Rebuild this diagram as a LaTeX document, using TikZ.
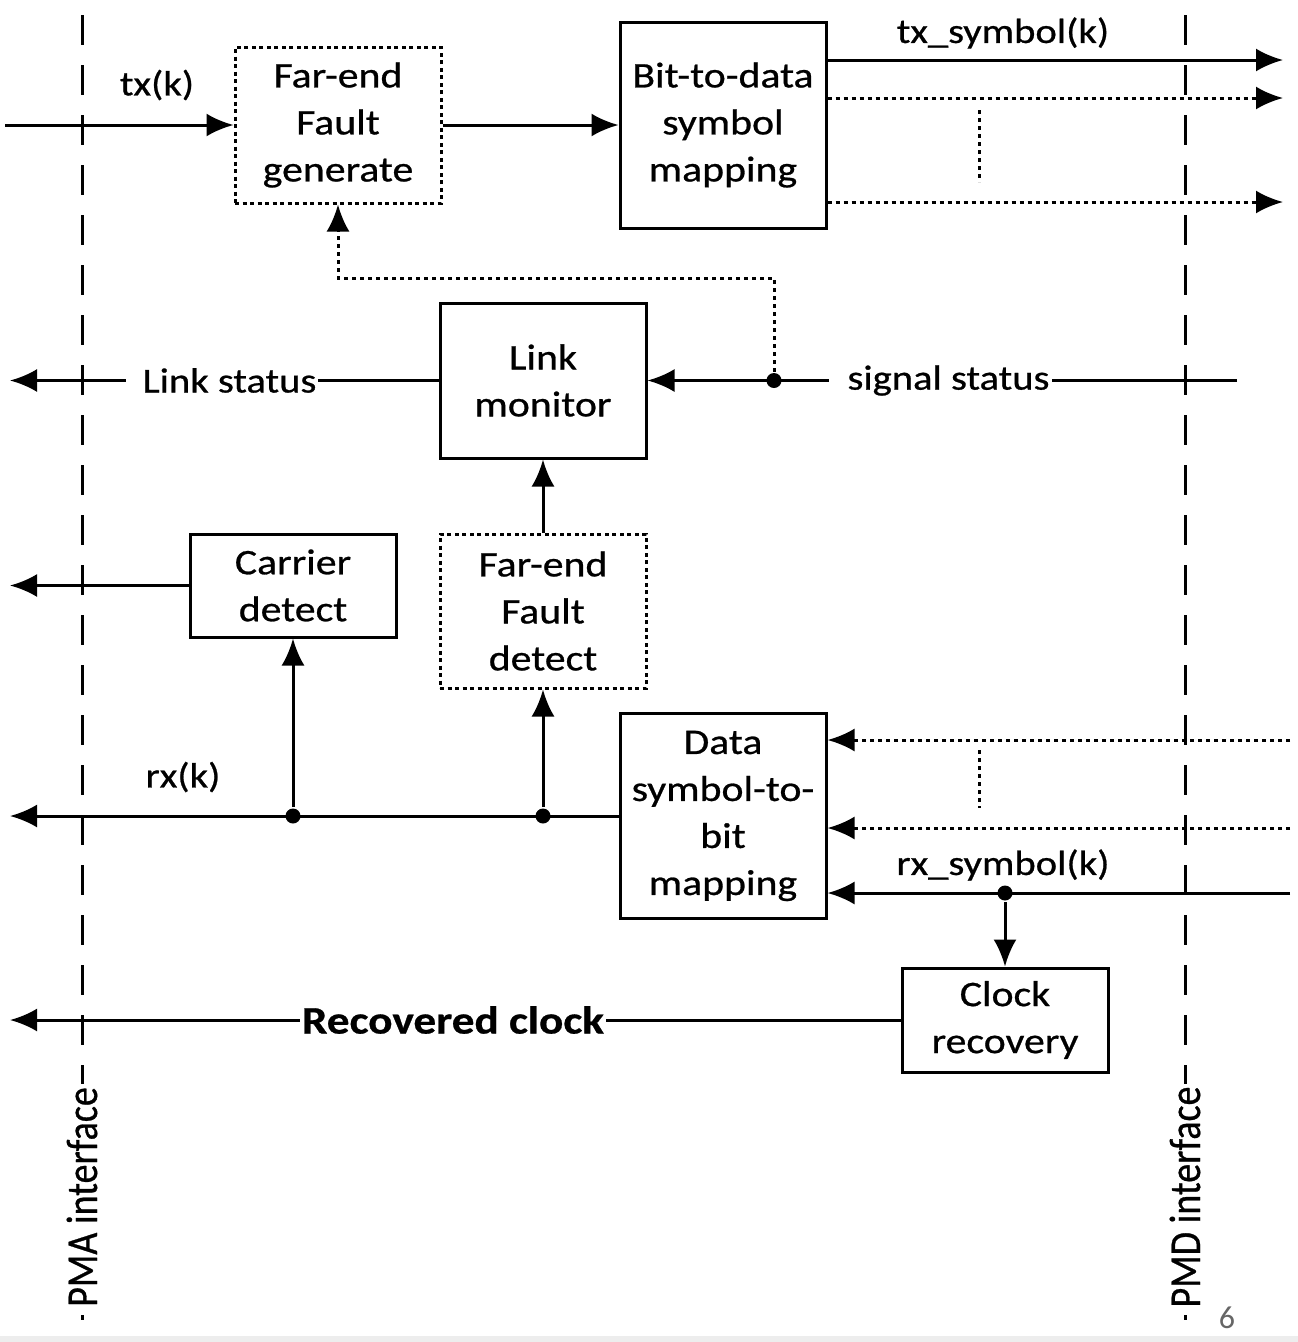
\documentclass[tikz,border=0pt]{standalone}
\usepackage{fontspec}
\setmainfont{Carlito}[FakeStretch=1.16,FakeBold=0.7]
\newfontfamily\upfont{Carlito}[FakeBold=0.7]
\newfontfamily\thinfont{Carlito}
\usetikzlibrary{arrows.meta}
\usetikzlibrary{calc}

\begin{document}
\begin{tikzpicture}[x=1pt,y=-1pt,line width=3pt,>={Latex[length=27pt,width=23pt]},
  blk/.style={draw,minimum width=206pt,align=center,inner sep=0pt,font=\fontsize{36}{47}\selectfont},
  dblk/.style={blk,dash pattern=on 4pt off 3.5pt},
  lbl/.style={inner sep=2pt,font=\fontsize{35}{40}\selectfont},
  dotln/.style={dash pattern=on 4pt off 4pt},
  ifln/.style={dash pattern=on 30pt off 20pt},
  jn/.style={circle,fill,inner sep=0pt,minimum size=15pt}]
\useasboundingbox (0,0) rectangle (1298,1342);
\fill[black!7] (0,1336) rectangle (1298,1342);
% blocks
\node[dblk,minimum height=156pt] (ffg) at (338,125) {Far-end\\Fault\\generate};
\node[blk,minimum height=206pt] (btd) at (723,125) {Bit-to-data\\symbol\\mapping};
\node[blk,minimum height=155pt] (lm) at (543,380.5) {Link\\monitor};
\node[blk,minimum height=103pt] (cd) at (293,585.5) {Carrier\\detect};
\node[dblk,minimum height=154pt] (ffd) at (543,611) {Far-end\\Fault\\detect};
\node[blk,minimum height=205pt] (dsb) at (723,816) {Data\\symbol-to-\\bit\\mapping};
\node[blk,minimum height=104pt] (cr) at (1005,1020) {Clock\\recovery};
% interfaces
\coordinate (pmatop) at (82,15);
\coordinate (pmabot) at (82,1320);
\coordinate (pmdtop) at (1185,15);
\coordinate (pmdbot) at (1185,1320);
\draw[ifln] (pmatop) -- (pmabot);
\draw[ifln] (pmdtop) -- (pmdbot);
% transmit side
\coordinate (txin) at (5,125);
\draw[->] (txin) -- (ffg.west);
\node[lbl] (txk) at (157,85) {tx(k)};
\draw[->] (ffg.east) -- (btd.west);
\coordinate (txa) at (1283,60);
\coordinate (txb) at (1283,98);
\coordinate (txc) at (1283,202);
\draw[->] (btd.east |- txa) -- (txa);
\draw[dotln,->] (btd.east |- txb) -- (txb);
\draw[dotln,->] (btd.east |- txc) -- (txc);
\draw[dotln] (979,110) -- (979,182);
\node[lbl] (txsym) at (1003,33) {tx\_symbol(k)};
% link monitor
\coordinate (sigin) at (1237,380.5);
\coordinate (lsout) at (10,380.5);
\coordinate (fb) at (774,278);
\node[jn] (ja) at (774,380.5) {};
\draw[->] (sigin) -- (lm.east);
\draw[dotln,->] (ja) -- (fb) -| (ffg.south);
\draw[->] (lm.west) -- (lsout);
\draw[->] (ffd.north) -- (lm.south);
\node[lbl,fill=white] (sigst) at (940,380.5) {\hspace*{17pt}signal status};
\node[lbl,fill=white] (lnkst) at (222,380.5) {\hspace*{15pt}Link status};
% receive side
\coordinate (cdout) at (10,585.5);
\draw[->] (cd.west) -- (cdout);
\coordinate (rxout) at (10,816);
\draw[->] (dsb.west) -- (rxout);
\node[jn] (jb) at (293,816) {};
\node[jn] (jc) at (543,816) {};
\draw[->] (jb) -- (cd.south);
\draw[->] (jc) -- (ffd.south);
\node[lbl] (rxk) at (183,777) {rx(k)};
\coordinate (rxa) at (1290,740);
\coordinate (rxb) at (1290,828);
\coordinate (rxin) at (1290,893);
\draw[dotln,->] (rxa) -- (dsb.east |- rxa);
\draw[dotln,->] (rxb) -- (dsb.east |- rxb);
\draw[dotln] (979,750) -- (979,808);
\draw[->] (rxin) -- (dsb.east |- rxin);
\node[jn] (jd) at (1005,893) {};
\draw[->] (jd) -- (cr.north);
\node[lbl] (rxsym) at (1003,865) {rx\_symbol(k)};
% clock
\coordinate (rcout) at (10,1020);
\draw[->] (cr.west) -- (rcout);
\node[lbl,fill=white,font=\bfseries\fontsize{39}{44}\selectfont] (rclk) at (453,1020) {Recovered clock};
% interface labels
\node[fill=white,inner sep=3pt,rotate=90,yscale=1.16,font=\upfont\fontsize{38}{44}\selectfont] (pma) at (82,1197) {PMA interface};
\node[fill=white,inner sep=3pt,rotate=90,yscale=1.16,font=\upfont\fontsize{38}{44}\selectfont] (pmd) at (1185,1197) {PMD interface};
\node[text=black!60,font=\thinfont\fontsize{32}{36}\selectfont] (pg) at (1227,1318) {6};
\end{tikzpicture}
\end{document}
